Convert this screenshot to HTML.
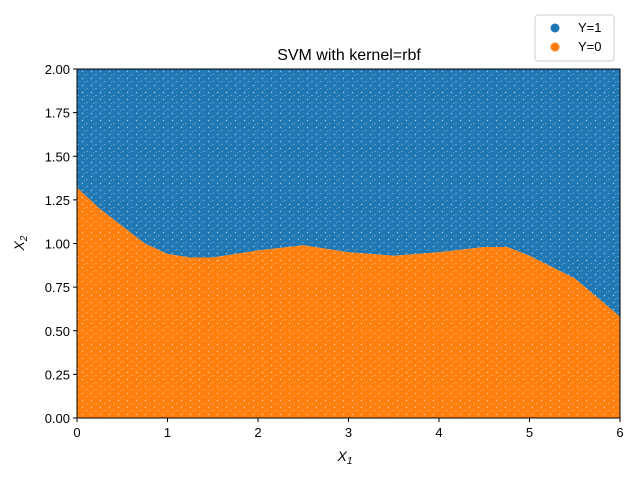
<!DOCTYPE html>
<html><head><meta charset="utf-8"><style>
body{margin:0;background:#fff;font-family:"Liberation Sans","DejaVu Sans",sans-serif;}
</style></head><body>
<svg width="640" height="480" viewBox="0 0 640 480" xmlns="http://www.w3.org/2000/svg">
<defs>
<pattern id="speck" width="9" height="7" patternUnits="userSpaceOnUse">
<circle cx="1.5" cy="1.5" r="0.7" fill="#fff" opacity="0.6"/>
<circle cx="6" cy="4.5" r="0.6" fill="#fff" opacity="0.5"/>
<circle cx="3.5" cy="5.5" r="0.5" fill="#fff" opacity="0.4"/>
</pattern>
<clipPath id="plotclip"><rect x="77" y="69" width="543" height="349"/></clipPath>
</defs>
<g id="plot" clip-path="url(#plotclip)"></g>
<g id="axes"></g>
<text x="349" y="60" text-anchor="middle" font-size="16">SVM with kernel=rbf</text>
<text x="345" y="461" text-anchor="middle" font-size="14" font-style="italic">X<tspan font-size="10" dy="3">1</tspan></text>
<text x="24" y="243" text-anchor="middle" font-size="14" font-style="italic" transform="rotate(-90 24 243)">X<tspan font-size="10" dy="3">2</tspan></text>
<g>
<rect x="535" y="15" width="79" height="46" rx="3" fill="#fff" stroke="#ccc"/>
<g><circle cx="555" cy="28" r="4.5" fill="#1f77b4"/><text x="578" y="32" font-size="13">Y=1</text></g>
<g><circle cx="555" cy="47" r="4.5" fill="#ff7f0e"/><text x="578" y="51" font-size="13">Y=0</text></g>
</g>
</svg>
<script>
const boundaryX=[0,0.25,0.5,0.75,1,1.25,1.5,2,2.5,3,3.5,4,4.5,4.75,5,5.5,6];
const boundaryY=[1.32,1.2,1.1,1.0,0.94,0.92,0.92,0.96,0.99,0.95,0.93,0.95,0.98,0.98,0.93,0.8,0.58];
const xTicks=[0,1,2,3,4,5,6];
const yTicks=[0,0.25,0.5,0.75,1,1.25,1.5,1.75,2];
const L=77,R=620,T=69,B=418;
const sx=v=>L+(v-0)/6*(R-L);
const sy=v=>B-(v-0)/2*(B-T);
const NS="http://www.w3.org/2000/svg";
const plot=document.getElementById('plot'),axes=document.getElementById('axes');
function mk(t,a,p){const e=document.createElementNS(NS,t);for(const k in a)e.setAttribute(k,a[k]);p.appendChild(e);return e;}
let pts=boundaryX.map((x,i)=>sx(x)+','+sy(boundaryY[i])).join(' ');
const blue=mk('polygon',{points:sx(0)+','+sy(2)+' '+pts+' '+sx(6)+','+sy(2),fill:'#1f77b4'},plot);


const orange=mk('polygon',{points:sx(0)+','+sy(0)+' '+pts+' '+sx(6)+','+sy(0),fill:'#ff7f0e'},plot);


const sp=mk('rect',{x:L,y:T,width:R-L,height:B-T,fill:'url(#speck)'},plot);


const frame=mk('rect',{x:L,y:T,width:R-L,height:B-T,fill:'none',stroke:'#000','stroke-width':1},axes);


xTicks.forEach(v=>{
 mk('line',{x1:sx(v),x2:sx(v),y1:B,y2:B+4,stroke:'#000'},axes);
 const t=mk('text',{x:sx(v),y:B+19,'text-anchor':'middle','font-size':13},axes);t.textContent=v;
 
 
});
yTicks.forEach(v=>{
 mk('line',{x1:L-4,x2:L,y1:sy(v),y2:sy(v),stroke:'#000'},axes);
 const t=mk('text',{x:L-7,y:sy(v)+5,'text-anchor':'end','font-size':13},axes);t.textContent=v.toFixed(2);
 
 
});
</script>
</body></html>
